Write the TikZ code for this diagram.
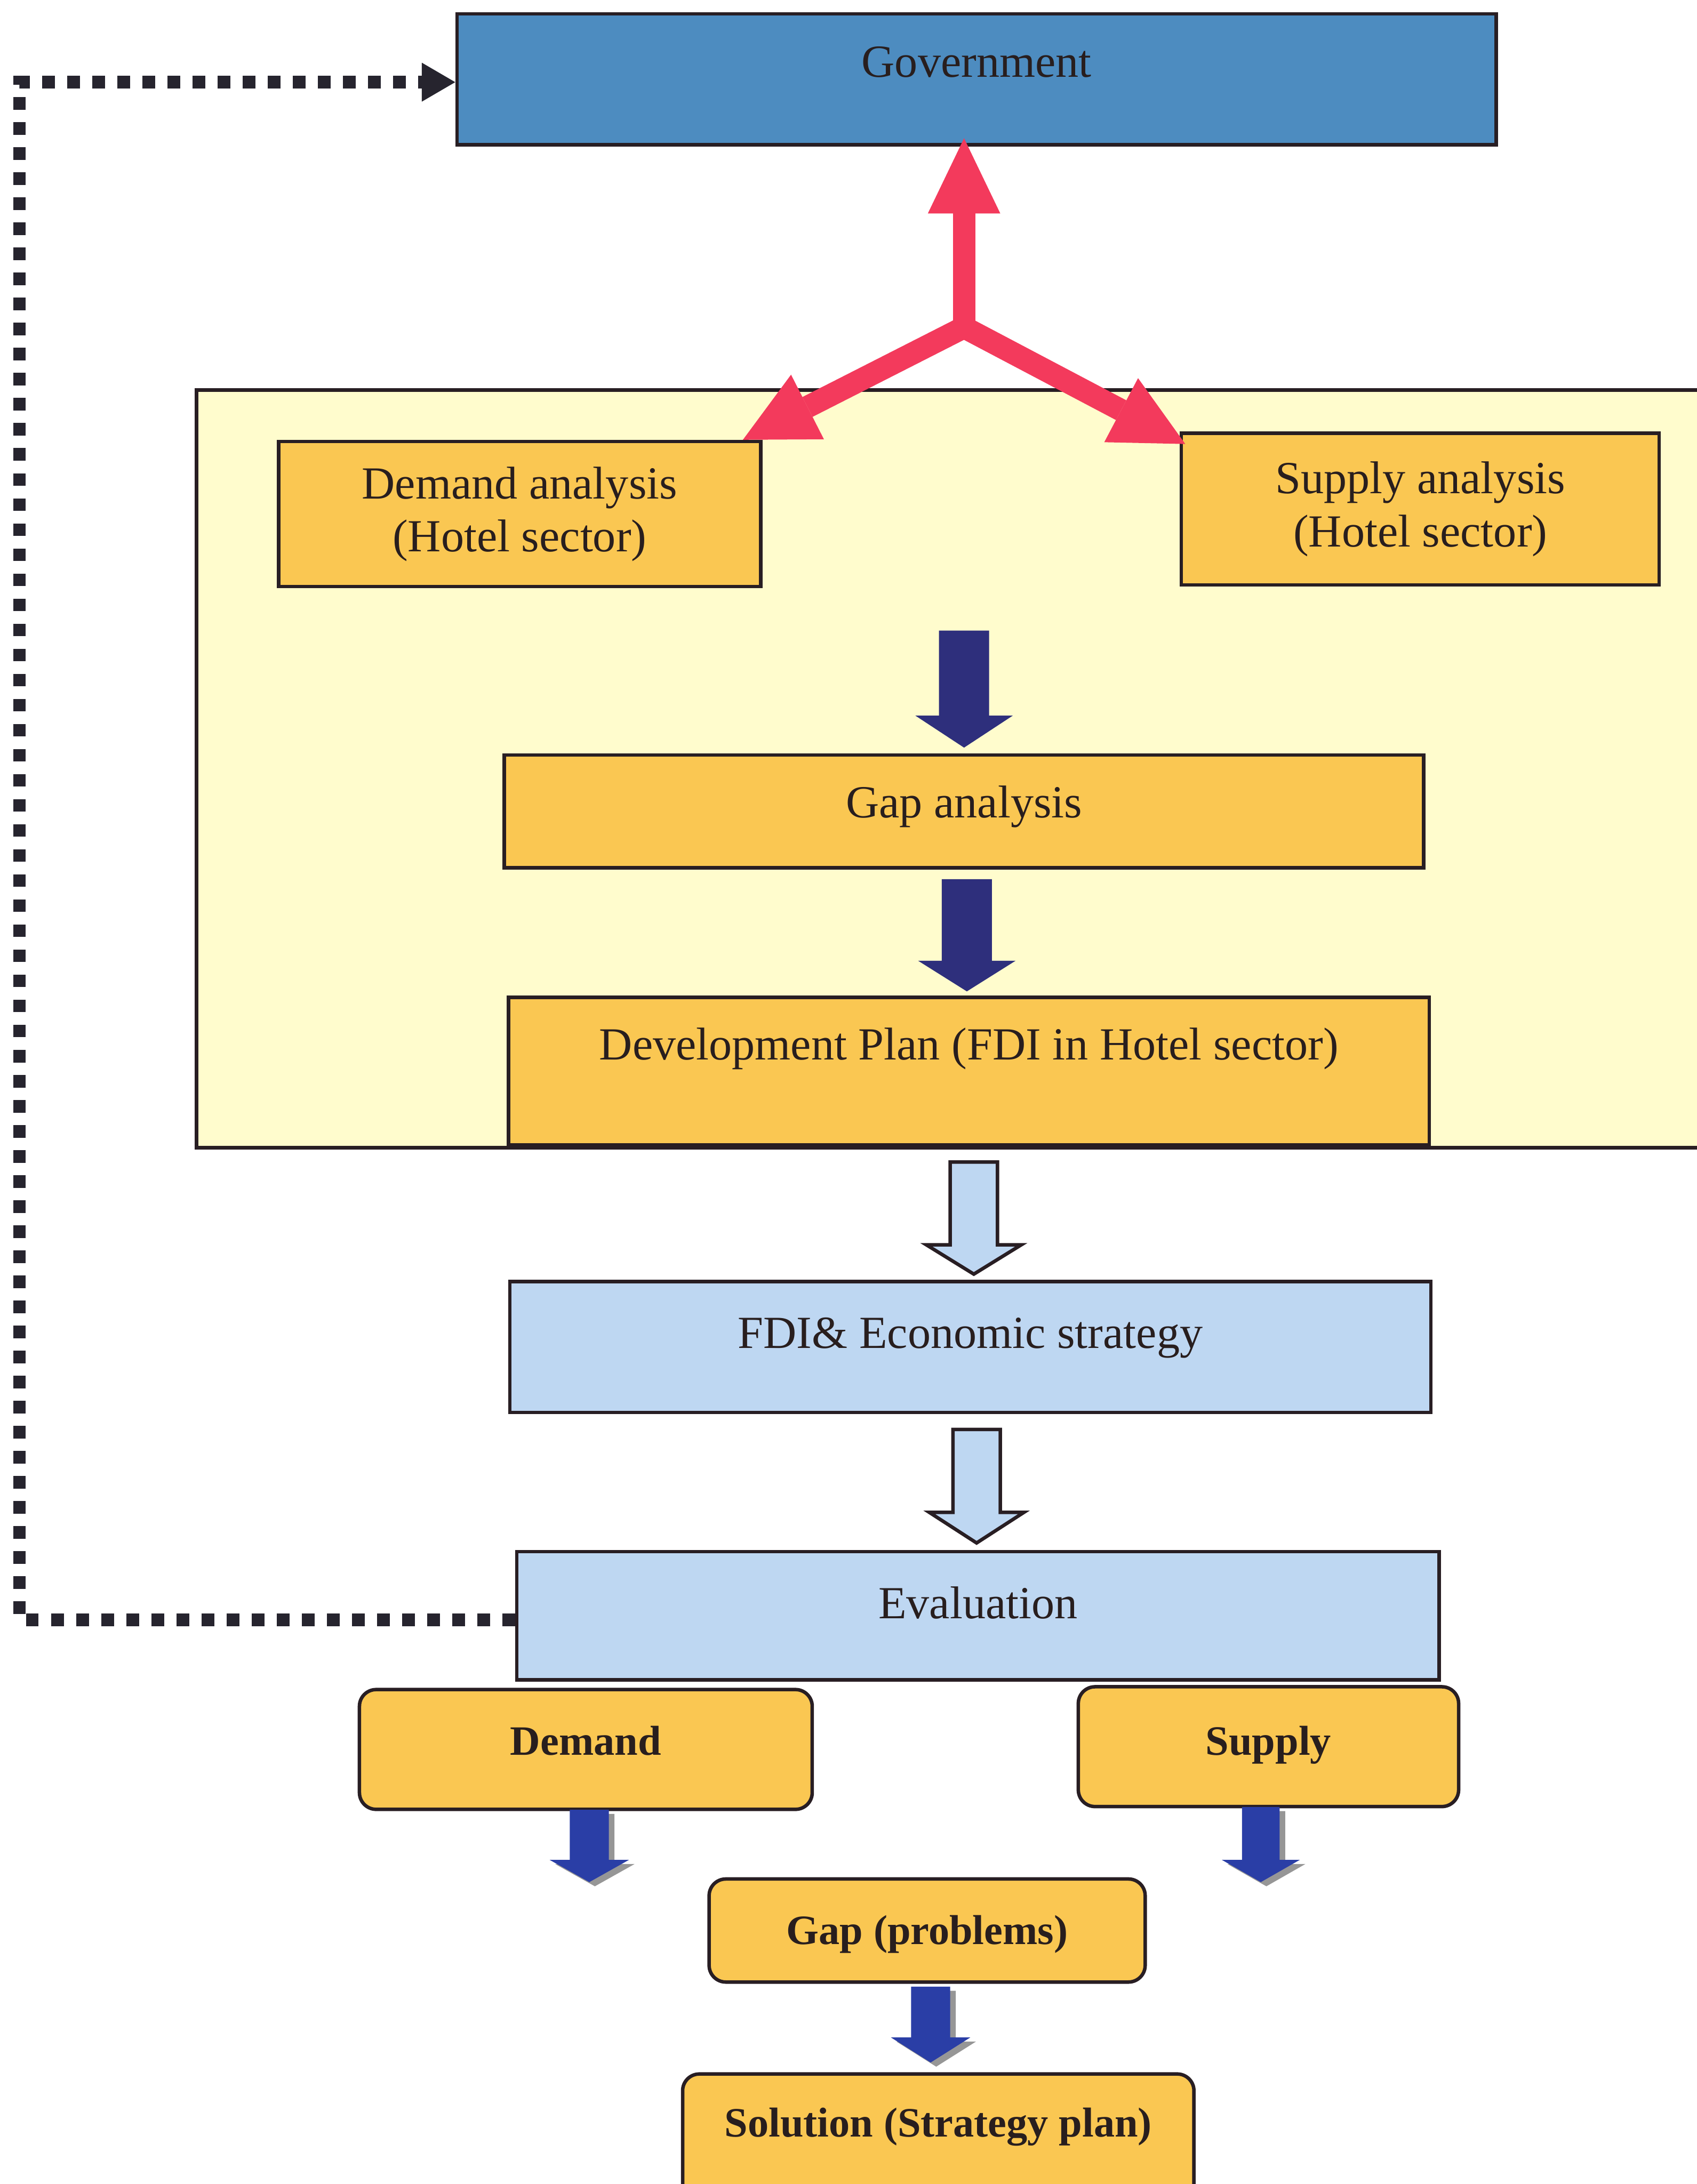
\documentclass[tikz,border=0pt]{standalone}
\usepackage{fontspec}
\setmainfont{Liberation Serif}
\usetikzlibrary{arrows.meta,calc}
\definecolor{govblue}{RGB}{77,140,192}
\definecolor{panelyellow}{RGB}{255,252,205}
\definecolor{goldbox}{RGB}{250,199,82}
\definecolor{lightblue}{RGB}{190,215,242}
\definecolor{bordercol}{RGB}{40,30,35}
\definecolor{textcol}{RGB}{40,30,30}
\definecolor{redarr}{RGB}{243,58,92}
\definecolor{navyarr}{RGB}{46,47,124}
\definecolor{royalarr}{RGB}{42,62,166}
\definecolor{shadowgray}{RGB}{150,150,150}
\definecolor{dotcol}{RGB}{38,36,46}
\newcommand{\fatarrowdraw}[6][]{%
  \path[#1] let \p1=(#2), \p2=(#3) in
    (\x1-#4,\y1) -- (\x1+#4,\y1) -- (\x1+#4,\y2+#6) -- (\x1+#5,\y2+#6) --
    (\x1,\y2) -- (\x1-#5,\y2+#6) -- (\x1-#4,\y2+#6) -- cycle;}
\begin{document}
\begin{tikzpicture}[x=1pt,y=-1pt,
  basebox/.style={draw=bordercol, line width=2.5pt, inner sep=0pt, text=textcol,
    font=\fontsize{33}{38}\selectfont},
  govbox/.style={basebox, fill=govblue},
  panelbox/.style={draw=bordercol, line width=2.5pt, fill=panelyellow, inner sep=0pt},
  goldrect/.style={basebox, fill=goldbox},
  bluerect/.style={basebox, fill=lightblue},
  goldround/.style={basebox, fill=goldbox, rounded corners=12pt,
    font=\fontsize{30}{34}\selectfont\bfseries},
  redarrow/.style={draw=redarr, line width=16pt},
  navyfat/.style={fill=navyarr},
  hollowfat/.style={fill=lightblue, draw=bordercol, line width=2.5pt, line join=miter},
  royalfat/.style={fill=royalarr},
  shadowfat/.style={fill=shadowgray},
  feedback/.style={draw=dotcol, line width=9pt, dash pattern=on 9pt off 9pt}
]
\useasboundingbox (0,0) rectangle (1218,1568);
\fill[white] (0,0) rectangle (1218,1568);

% container panel
\node[panelbox, minimum width=1089pt, minimum height=544pt] (panel) at (685.5,552) {};

% boxes
\node[govbox, minimum width=746pt, minimum height=94pt, text height=45.5pt, text depth=48.5pt] (gov) at (701,57) {Government};
\node[goldrect, minimum width=346pt, minimum height=104pt, align=center] (dema) at (373,369) {Demand analysis\\(Hotel sector)};
\node[goldrect, minimum width=343pt, minimum height=109pt, align=center] (supa) at (1019.5,365.5) {Supply analysis\\(Hotel sector)};
\node[goldrect, minimum width=660pt, minimum height=81pt, text height=45pt, text depth=36pt] (gap) at (692,582.5) {Gap analysis};
\node[goldrect, minimum width=661pt, minimum height=106pt, text height=45pt, text depth=61pt] (dev) at (695.5,769) {Development Plan (FDI in Hotel sector)};
\node[bluerect, minimum width=661pt, minimum height=94pt, text height=48pt, text depth=46pt] (fdi) at (696.5,967) {FDI\& Economic strategy};
\node[bluerect, minimum width=662pt, minimum height=92pt, text height=48pt, text depth=44pt] (eval) at (702,1160) {Evaluation};
\node[goldround, minimum width=325pt, minimum height=86pt, text height=47pt, text depth=39pt] (dem) at (420.5,1256) {Demand};
\node[goldround, minimum width=273pt, minimum height=86pt, text height=49pt, text depth=37pt] (sup) at (910.5,1254) {Supply};
\node[goldround, minimum width=313pt, minimum height=74pt, text height=47pt, text depth=27pt] (gapp) at (665.5,1386) {Gap (problems)};
\node[goldround, minimum width=367pt, minimum height=91pt, text height=45pt, text depth=46pt] (sol) at (673.5,1534.5) {Solution (Strategy plan)};

% red Y-shaped arrows
\coordinate (J) at (692,235);
\coordinate (upTip) at ($(gov.south)+(-9,-6)$);
\coordinate (lTip) at ($(dema.north east)+(-14,0)$);
\coordinate (rTip) at ($(supa.north west)+(4,9)$);
\draw[redarrow, -{Triangle[length=54pt,width=52pt,line width=0pt]}] (J) -- (upTip);
\draw[redarrow, line join=miter,
  {Triangle[length=52pt,width=52pt,line width=0pt]}-{Triangle[length=52pt,width=52pt,line width=0pt]}]
  (lTip) -- (J) -- (rTip);

% block arrows
\coordinate (a1s) at ($(gap.north)+(0,-88)$);
\coordinate (a1e) at ($(gap.north)+(0,-4)$);
\coordinate (a2s) at ($(gap.south)+(2,7)$);
\coordinate (a2e) at ($(dev.north)+(-1.5,-3)$);
\coordinate (a3s) at ($(dev.south)+(3.5,11)$);
\coordinate (a3e) at ($(fdi.north)+(2.5,-4)$);
\coordinate (a4s) at ($(fdi.south)+(4.5,11)$);
\coordinate (a4e) at ($(eval.north)+(-1,-5)$);
\coordinate (a5s) at ($(dem.south)+(2.5,-1)$);
\coordinate (a5e) at ($(a5s)+(0,52)$);
\coordinate (a6s) at ($(sup.south)+(-5.5,-1)$);
\coordinate (a6e) at ($(a6s)+(0,54)$);
\coordinate (a7s) at ($(gapp.south)+(2.5,2)$);
\coordinate (a7e) at ($(sol.north)+(-5.5,-7)$);

\fatarrowdraw[navyfat]{a1s}{a1e}{18pt}{35pt}{23pt}
\fatarrowdraw[navyfat]{a2s}{a2e}{18pt}{35pt}{22pt}
\fatarrowdraw[hollowfat]{a3s}{a3e}{17pt}{34pt}{21pt}
\fatarrowdraw[hollowfat]{a4s}{a4e}{17pt}{34pt}{22pt}
\fatarrowdraw[shadowfat]{$(a5s)+(4,3)$}{$(a5e)+(4,3)$}{14pt}{28.5pt}{16pt}
\fatarrowdraw[royalfat]{a5s}{a5e}{14pt}{28.5pt}{16pt}
\fatarrowdraw[shadowfat]{$(a6s)+(4,3)$}{$(a6e)+(4,3)$}{13.5pt}{28pt}{16pt}
\fatarrowdraw[royalfat]{a6s}{a6e}{13.5pt}{28pt}{16pt}
\fatarrowdraw[shadowfat]{$(a7s)+(4,3)$}{$(a7e)+(4,3)$}{14pt}{28.5pt}{18pt}
\fatarrowdraw[royalfat]{a7s}{a7e}{14pt}{28.5pt}{18pt}

% feedback dotted connector
\coordinate (dl) at (14,0);
\draw[feedback, -{Triangle[length=24pt,width=28pt,line width=0pt]}]
  ($(eval.west)+(0,3)$) -- ($(eval.west -| dl)+(0,3)$) -- ($(gov.west -| dl)+(0,2)$) -- ($(gov.west)+(0,2)$);
\end{tikzpicture}
\end{document}
